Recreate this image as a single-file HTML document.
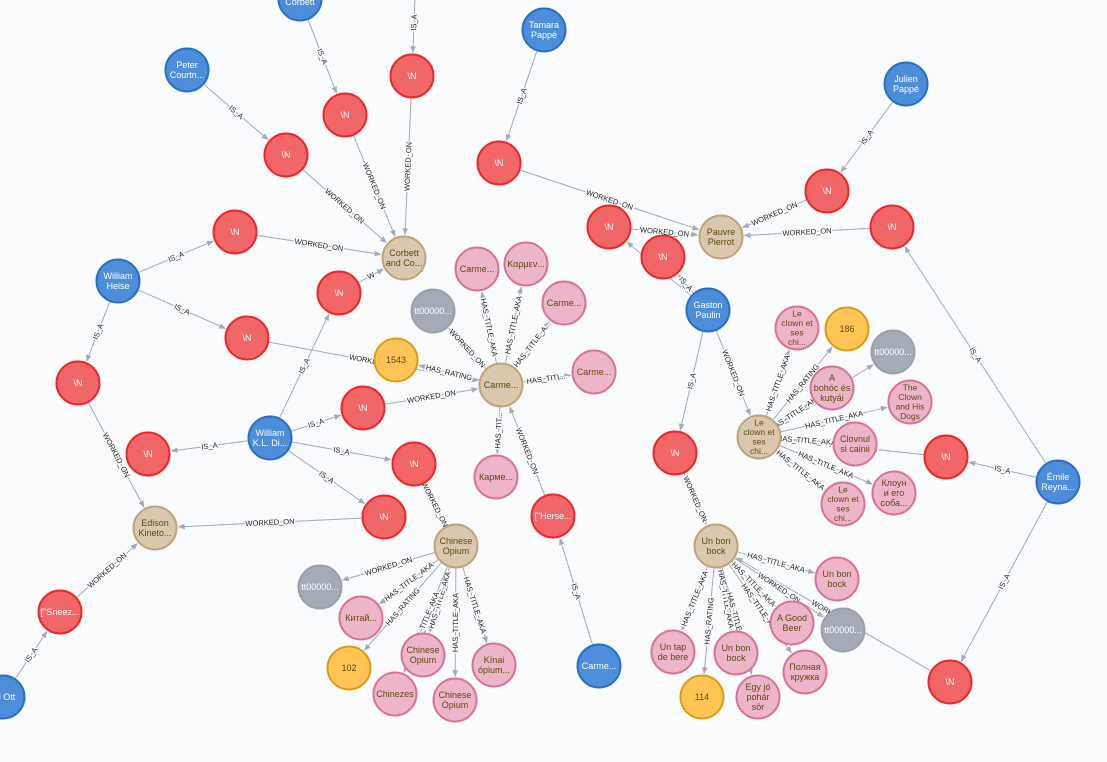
<!DOCTYPE html>
<html><head><meta charset="utf-8"><style>
html,body{margin:0;padding:0;background:#f9fbfd;overflow:hidden}
svg{display:block}
text{font-family:"Liberation Sans","DejaVu Sans",sans-serif}
</style></head><body>
<svg id="g" width="1107" height="762" xmlns="http://www.w3.org/2000/svg">
<defs><marker id="a" viewBox="0 0 10 10" refX="9" refY="5" markerWidth="7" markerHeight="7" orient="auto"><path d="M0,1 L10,5 L0,9 z" fill="#a5abb6"/></marker></defs>
<rect width="1107" height="762" fill="#f9fbfd"/>
</svg>
<script>
var C={b:["#4c8eda","#2870c2","#fff"],r:["#f16667","#eb2728","#fff"],t:["#d9c8ae","#c0a378","#604a0e"],p:["#ecb5c9","#da7298","#604a0e"],y:["#ffc454","#d7a013","#604a0e"],g:["#a5abb6","#9aa1ac","#fff"]};
var N={
corb:[300,-1,"b",["Corbett"]],topx:[416,-30,"b",[""]],peter:[187,70,"b",["Peter","Courtn..."]],tam:[544,30,"b",["Tamara","Pappé"]],jul:[906,84,"b",["Julien","Pappé"]],
wh:[118,281,"b",["William","Heise"]],wk:[270,438,"b",["William","K.L. Di..."]],gas:[708,310,"b",["Gaston","Paulin"]],em:[1058,482,"b",["Émile","Reyna..."]],
cb:[599,666,"b",["Carme..."]],ott:[3,697,"b",["ed Ott"]],
n1:[412,76,"r",["\\N"]],n2:[345,115,"r",["\\N"]],n3:[286,155,"r",["\\N"]],n4:[499,163,"r",["\\N"]],n5:[827,191,"r",["\\N"]],n6:[235,232,"r",["\\N"]],
n7:[609,227,"r",["\\N"]],n8:[892,227,"r",["\\N"]],n9:[663,257,"r",["\\N"]],n10:[339,293,"r",["\\N"]],n11:[247,338,"r",["\\N"]],n12:[78,383,"r",["\\N"]],
n13:[363,408,"r",["\\N"]],n14:[148,454,"r",["\\N"]],n15:[414,464,"r",["\\N"]],n16:[675,453,"r",["\\N"]],n17:[946,457,"r",["\\N"]],n18:[384,517,"r",["\\N"]],
her:[553,516,"r",["[\"Herse..."]],snz:[60,612,"r",["[\"Sneez..."]],n19:[950,682,"r",["\\N"]],
cc:[404,258,"t",["Corbett","and Co..."]],pp:[721,237,"t",["Pauvre","Pierrot"]],car:[501,385,"t",["Carme..."]],lc:[759,437,"t",["Le","clown et","ses","chi..."]],
ed:[155,528,"t",["Edison","Kineto..."]],co:[456,546,"t",["Chinese","Opium"]],ub:[716,546,"t",["Un bon","bock"]],
y1:[396,360,"y",["1543"]],y2:[847,329,"y",["186"]],y3:[349,668,"y",["102"]],y4:[702,697,"y",["114"]],
g1:[433,311,"g",["tt00000..."]],g2:[893,352,"g",["tt00000..."]],g3:[320,587,"g",["tt00000..."]],g4:[843,630,"g",["tt00000..."]],
p1:[477,269,"p",["Carme..."]],p2:[526,264,"p",["Καρμεν..."]],p3:[564,303,"p",["Carme..."]],p4:[594,372,"p",["Carme..."]],p5:[496,477,"p",["Карме..."]],
p6:[797,328,"p",["Le","clown et","ses","chi..."]],p7:[832,388,"p",["A","bohóc és","kutyái"]],p8:[910,402,"p",["The","Clown","and His","Dogs"]],p9:[855,444,"p",["Clovnul","si cainii"]],
p10:[843,504,"p",["Le","clown et","ses","chi..."]],p11:[894,493,"p",["Клоун","и его","соба..."]],
p12:[837,579,"p",["Un bon","bock"]],p13:[792,623,"p",["A Good","Beer"]],p14:[673,652,"p",["Un tap","de bere"]],p15:[736,653,"p",["Un bon","bock"]],
p16:[805,672,"p",["Полная","кружка"]],p17:[758,697,"p",["Egy jó","pohár","sör"]],
p18:[361,618,"p",["Китай..."]],p19:[423,655,"p",["Chinese","Opium"]],p20:[494,665,"p",["Kínai","ópium..."]],p21:[395,694,"p",["Chinezes"]],p22:[455,700,"p",["Chinese","Opium"]]
};
var I="IS_A",W="WORKED_ON",H="HAS_TITLE_AKA",R="HAS_RATING";
var E=[["corb","n2",I],["topx","n1",I],["peter","n3",I],["n2","cc",W],["n1","cc",W],["n3","cc",W],["n6","cc",W],["n10","cc","W"],
["wh","n6",I],["wh","n11",I],["wh","n12",I],["n11","car",W],["n12","ed",W],["wk","n10",I],["wk","n13",I],["wk","n14",I],["wk","n15",I],["wk","n18",I],
["n13","car",W],["n15","co",W],["n18","ed",W],["snz","ed",W],["ott","snz",I],
["car","y1",R],["car","g1",W],["car","p1",H],["car","p2",H],["car","p3","HAS_TITLE_A..."],["car","p4","HAS_TITL..."],["car","p5","HAS_TIT..."],
["her","car",W],["cb","her",I],["tam","n4",I],["n4","pp",W],["n7","pp",W],["n5","pp",W],["n8","pp",W],["jul","n5",I],
["gas","n7",I],["gas","n9",I],["gas","n16",I],["gas","lc",W],["n16","ub",W],["em","n8",I],["em","n17",I],["em","n19",I],
["n17","lc",W],["n19","ub",W],
["lc","p6",H],["lc","y2",R],["lc","g2",W],["lc","p7",H],["lc","p8",H],["lc","p9",H],["lc","p10",H],["lc","p11",H],
["ub","p12",H],["ub","p13",H],["ub","p14",H],["ub","p15",H],["ub","p16",H],["ub","p17",H],["ub","y4",R],["ub","g4",W],
["co","g3",W],["co","p18",H],["co","y3",R],["co","p19",H],["co","p20",H],["co","p21",H],["co","p22",H]];
var s=document.getElementById("g"),ns="http://www.w3.org/2000/svg",r=21.5;
function el(t,a,p){var e=document.createElementNS(ns,t);for(var k in a)e.setAttribute(k,a[k]);(p||s).appendChild(e);return e;}
var eg=el("g",{}),ng=el("g",{});
E.forEach(function(e){var A=N[e[0]],B=N[e[1]],dx=B[0]-A[0],dy=B[1]-A[1],L=Math.hypot(dx,dy),ux=dx/L,uy=dy/L;
var x1=A[0]+ux*(r+1),y1=A[1]+uy*(r+1),x2=B[0]-ux*(r+2),y2=B[1]-uy*(r+2);
el("line",{x1:x1,y1:y1,x2:x2,y2:y2,stroke:"#a5abb6","stroke-width":1,"marker-end":"url(#a)"},eg);
var mx=(x1+x2)/2,my=(y1+y2)/2,ang=Math.atan2(dy,dx)*180/Math.PI;if(ang>90)ang-=180;if(ang<-90)ang+=180;
var t=el("text",{x:mx,y:my+2.5,"font-size":7.5,"text-anchor":"middle",fill:"#222",stroke:"#f9fbfd","stroke-width":3,"paint-order":"stroke",transform:"rotate("+ang+" "+mx+" "+my+")"},eg);t.textContent=e[2];});
for(var k in N){var n=N[k],c=C[n[2]];el("circle",{cx:n[0],cy:n[1],r:r,fill:c[0],stroke:c[1],"stroke-width":2},ng);
var l=n[3],fs=l.length>3?8.5:9,lh=fs+1,y0=n[1]-(l.length-1)*lh/2+fs*0.35;
if(k=="corb")y0=5;
l.forEach(function(w,i){var t=el("text",{x:n[0],y:y0+i*lh,"font-size":fs,"text-anchor":"middle",fill:c[2]},ng);t.textContent=w;});}
</script>
</body></html>
